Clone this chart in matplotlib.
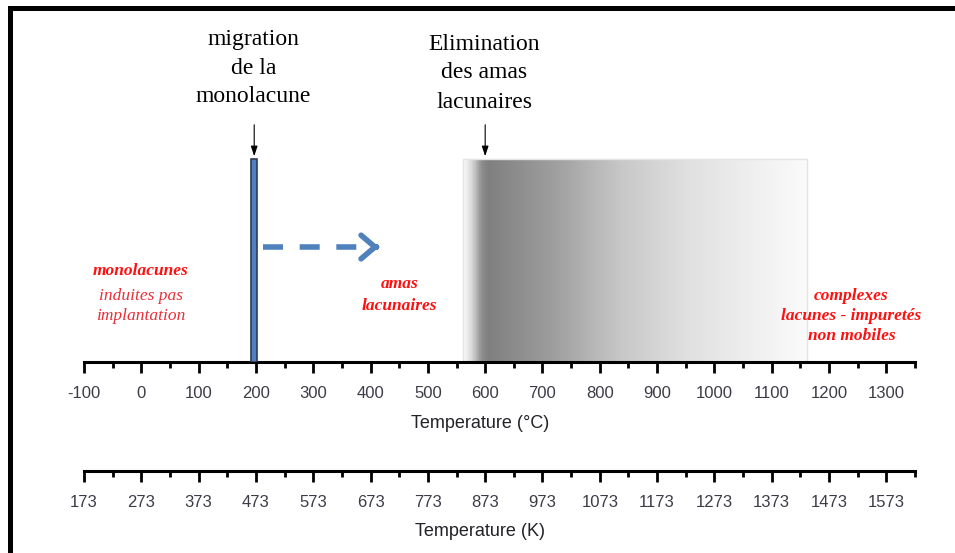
import numpy as np
import matplotlib
matplotlib.use("Agg")
import matplotlib.pyplot as plt
from matplotlib.colors import LinearSegmentedColormap
from matplotlib.patches import Rectangle

# ------------------------------------------------------------------
# data (temperatures in °C, heights in px above the axis line)
# ------------------------------------------------------------------
c_ticks = [-100, 0, 100, 200, 300, 400, 500, 600, 700, 800, 900, 1000,
           1100, 1200, 1300]
c_minor = [-50, 50, 150, 250, 350, 450, 550, 650, 750, 850, 950, 1050,
           1150, 1250, 1350]
k_ticks = [173, 273, 373, 473, 573, 673, 773, 873, 973, 1073, 1173, 1273,
           1373, 1473, 1573]
k_minor = [223, 323, 423, 523, 623, 723, 823, 923, 1023, 1123, 1223, 1323,
           1423, 1523, 1623]

mono_T = 197            # migration of the monovacancy
mono_w = 10
elim_start, elim_end = 561, 1162   # cluster elimination band
elim_peak = 600
bar_h = 203
arrow_from, arrow_to = 212, 420

# gradient of the elimination band: (relative position, grey level)
grad_pos = [0.0, 0.023, 0.05, 0.07, 0.27, 0.46, 0.65, 0.85, 1.0]
grad_col = ["#f8f8f8", "#d8d8d8", "#909090", "#7f7f7f", "#a0a0a0",
            "#c8c8c8", "#e0e0e0", "#f0f0f0", "#fbfbfb"]

W, H = 955, 553
fig = plt.figure(figsize=(W / 100, H / 100), dpi=100)

# frame (only top and left edges visible in the crop)
fig.add_artist(Rectangle((8 / W, 0), 5 / W, (H - 6) / H,
                         transform=fig.transFigure, color="black", lw=0))
fig.add_artist(Rectangle((8 / W, (H - 11) / H), (W - 8) / W, 5 / H,
                         transform=fig.transFigure, color="black", lw=0))

x0, x1 = 84, 915
ax = fig.add_axes([x0 / W, (H - 362) / H, (x1 - x0) / W, 362 / H])
ax.set_xlim(-100, 1350)
ax.set_ylim(0, 362)
ax.patch.set_alpha(0)
for s in ["top", "right", "left"]:
    ax.spines[s].set_visible(False)
ax.spines["bottom"].set_linewidth(2.2)
ax.set_yticks([])
ax.set_xticks(c_ticks)
ax.set_xticks(c_minor, minor=True)
ax.set_xticklabels([str(t) for t in c_ticks], fontsize=12,
                   family="Liberation Sans", color="#3c3c48")
ax.tick_params(axis="x", which="major", length=8, width=2, pad=9)
ax.tick_params(axis="x", which="minor", length=4.5, width=2)

# elimination band (grey gradient)
cmap = LinearSegmentedColormap.from_list("elim", list(zip(grad_pos, grad_col)))
ax.imshow(np.linspace(0, 1, 400)[None, :], cmap=cmap, aspect="auto",
          extent=[elim_start, elim_end, 0, bar_h], zorder=1,
          interpolation="bilinear")
ax.add_patch(Rectangle((elim_start, 0), elim_end - elim_start, bar_h,
                       fill=False, ec="#e4e4e4", lw=1.0, zorder=2))

# monovacancy migration bar
ax.bar(mono_T, bar_h, width=mono_w, color="#4f7fbf", edgecolor="#2e3d55",
       lw=1.2, zorder=3)

# dashed blue arrow
ax.plot([arrow_from, arrow_to - 25], [115, 115], color="#4f81bd", lw=4,
        dashes=(3.6, 3.0), solid_capstyle="butt", zorder=3)
ax.annotate("", xy=(arrow_to, 115), xytext=(arrow_to - 16, 115),
            arrowprops=dict(arrowstyle="->,head_length=1.0,head_width=0.85",
                            color="#4f81bd", lw=4), zorder=3)

# small black arrows
for t in [mono_T, elim_peak]:
    ax.annotate("", xy=(t, bar_h), xytext=(t, 240),
                arrowprops=dict(arrowstyle="-|>,head_length=0.6,head_width=0.2",
                                color="black", lw=0.8), annotation_clip=False)

serif = "Liberation Serif"
ax.text(196, 294, "migration\nde la\nmonolacune", ha="center", va="center",
        fontsize=17, family=serif, linespacing=1.5, clip_on=False)
ax.text(598, 289, "Elimination\ndes amas\nlacunaires", ha="center",
        va="center", fontsize=17, family=serif, linespacing=1.5,
        clip_on=False)

red = "#ff1010"
ax.text(-1, 91, "monolacunes", ha="center", va="center", fontsize=12.5,
        family=serif, style="italic", weight="bold", color=red)
ax.text(-1, 56, "induites pas\nimplantation", ha="center", va="center",
        fontsize=12.5, family=serif, style="italic", color="#e8303a",
        linespacing=1.3)
ax.text(451, 67, "amas\nlacunaires", ha="center", va="center",
        fontsize=12.5, family=serif, style="italic", weight="bold",
        color=red, linespacing=1.45)
ax.text(1239, 46, "complexes\nlacunes - impuretés\nnon mobiles",
        ha="center", va="center", fontsize=12.5, family=serif,
        style="italic", weight="bold", color=red, linespacing=1.35)

fig.text(480 / W, (H - 424) / H, "Temperature (°C)", ha="center",
         va="center", fontsize=13, family="Liberation Sans", color="#222228")

# Kelvin axis
axk = fig.add_axes([x0 / W, (H - 471) / H, (x1 - x0) / W, 0.001])
axk.set_xlim(173, 1623)
axk.patch.set_alpha(0)
for s in ["top", "right", "left"]:
    axk.spines[s].set_visible(False)
axk.spines["bottom"].set_linewidth(2.2)
axk.set_yticks([])
axk.set_xticks(k_ticks)
axk.set_xticks(k_minor, minor=True)
axk.set_xticklabels([str(t) for t in k_ticks], fontsize=12,
                    family="Liberation Sans", color="#3c3c48")
axk.tick_params(axis="x", which="major", length=8, width=2, pad=9)
axk.tick_params(axis="x", which="minor", length=4.5, width=2)

fig.text(480 / W, (H - 532) / H, "Temperature (K)", ha="center",
         va="center", fontsize=13, family="Liberation Sans", color="#222228")

fig.savefig("out.png", dpi=100)
